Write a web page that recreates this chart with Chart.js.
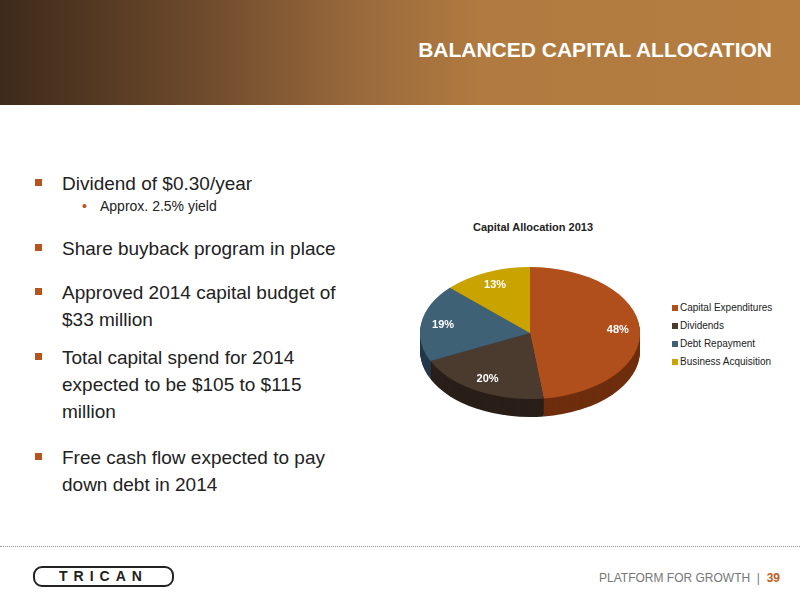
<!DOCTYPE html>
<html><head><meta charset="utf-8">
<script src="https://cdn.jsdelivr.net/npm/chart.js@4"></script>
<style>
body{margin:0;width:800px;height:600px;position:relative;background:#fff;font-family:"Liberation Sans",Arial,sans-serif;overflow:hidden}
#hdr{position:absolute;left:0;top:0;width:800px;height:105px;background:linear-gradient(90deg,#3d2a1a 0%,#6e4a2c 25%,#9a6a3c 45%,#b07a40 60%,#b57d40 100%)}
#hdr h1{position:absolute;right:28px;top:38px;margin:0;color:#fff;font-size:21px;font-weight:bold}
.b{position:absolute;left:62px;font-size:19px;line-height:27px;color:#222}
.b:before{content:"";position:absolute;left:-27px;top:9px;width:7px;height:7px;background:#b5541c}
.s{position:absolute;left:100px;font-size:14px;color:#222}
.s:before{content:"•";position:absolute;left:-18px;color:#b5541c}
#title{position:absolute;left:440px;top:221px;width:186px;text-align:center;font-size:11px;font-weight:bold;color:#222}
#leg{position:absolute;left:672px;top:299px;font-size:10px;color:#222}
#leg div{height:18px;line-height:18px}
#leg span{display:inline-block;width:6px;height:6px;margin-right:2px}
#foot{position:absolute;left:0;top:546px;width:800px;border-top:1px dotted #999}
#logo{position:absolute;left:33px;top:566px;width:137px;height:17px;border:2px solid #222;border-radius:9px;font-weight:bold;font-size:14px;letter-spacing:6px;text-align:center;line-height:17px;color:#222}
#pg{position:absolute;right:20px;top:571px;font-size:12px;color:#777}
#pg b{color:#c0601c}
</style></head><body>
<div id="hdr"><h1>BALANCED CAPITAL ALLOCATION</h1></div>
<div class="b" style="top:170px">Dividend of $0.30/year</div>
<div class="s" style="top:198px">Approx. 2.5% yield</div>
<div class="b" style="top:235px">Share buyback program in place</div>
<div class="b" style="top:279px">Approved 2014 capital budget of<br>$33 million</div>
<div class="b" style="top:344px">Total capital spend for 2014<br>expected to be $105 to $115<br>million</div>
<div class="b" style="top:444px">Free cash flow expected to pay<br>down debt in 2014</div>
<div id="title">Capital Allocation 2013</div>
<div style="position:absolute;left:420px;top:230px;width:220px;height:220px"><canvas id="c"></canvas></div>
<div id="leg"></div>
<div id="foot"></div>
<div id="logo">TRICAN</div>
<div id="pg">PLATFORM FOR GROWTH &nbsp;|&nbsp; <b>39</b></div>
<script>
const categories = ['Capital Expenditures', 'Dividends', 'Debt Repayment', 'Business Acquisition'];
const values = [48, 20, 19, 13];
const colors = ['#b14f1c', '#4b3a2e', '#3f6176', '#c9a300'];
const sides = ['#6e2e0e', '#2a1f18', '#24394a', '#7d6500'];

document.getElementById('leg').innerHTML = categories.map((c, i) =>
  '<div><span style="background:' + colors[i] + '"></span>' + c + '</div>').join('');

const SQ = 0.6, DEPTH = 18, LIFT = -7;

// squash the pie into an ellipse and give it a side wall
const tilt = {
  id: 'tilt',
  beforeDatasetsDraw(chart) {
    const ctx = chart.ctx;
    const arcs = chart.getDatasetMeta(0).data;
    const cy = arcs[0].y;
    for (let dy = DEPTH; dy > 0; dy--) {
      ctx.save();
      ctx.translate(0, cy + LIFT + dy);
      ctx.scale(1, SQ);
      ctx.translate(0, -cy);
      arcs.forEach((a, i) => {
        ctx.beginPath();
        ctx.moveTo(a.x, a.y);
        ctx.arc(a.x, a.y, a.outerRadius, a.startAngle, a.endAngle);
        ctx.closePath();
        ctx.fillStyle = sides[i];
        ctx.fill();
      });
      ctx.restore();
    }
    ctx.save();
    ctx.translate(0, cy + LIFT);
    ctx.scale(1, SQ);
    ctx.translate(0, -cy);
  },
  afterDatasetsDraw(chart) {
    const ctx = chart.ctx;
    ctx.restore();
    const arcs = chart.getDatasetMeta(0).data;
    ctx.font = 'bold 11px "Liberation Sans", Arial';
    ctx.fillStyle = '#fff';
    ctx.textAlign = 'center';
    ctx.textBaseline = 'middle';
    arcs.forEach((a, i) => {
      const mid = (a.startAngle + a.endAngle) / 2;
      const r = a.outerRadius * 0.8;
      const x = a.x + Math.cos(mid) * r;
      const y = a.y + LIFT + Math.sin(mid) * r * SQ;
      ctx.fillText(values[i] + '%', x, y);
    });
  }
};

new Chart(document.getElementById('c'), {
  type: 'pie',
  data: { labels: categories, datasets: [{ data: values, backgroundColor: colors, borderWidth: 0 }] },
  options: {
    responsive: true, maintainAspectRatio: false, animation: false,
    plugins: { legend: { display: false }, tooltip: { enabled: false } }
  },
  plugins: [tilt]
});
</script>
</body></html>
